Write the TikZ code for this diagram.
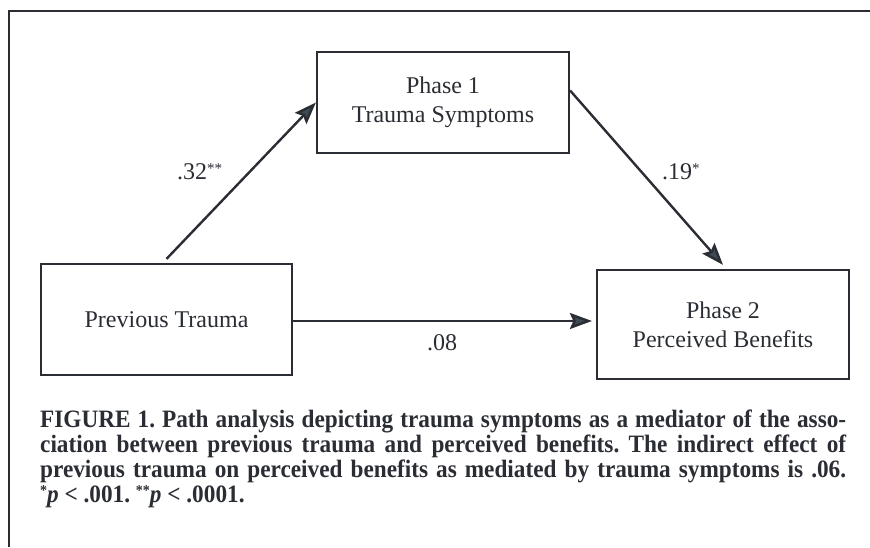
\documentclass[tikz,border=0pt]{standalone}
\usepackage{fontspec}
\setmainfont{Liberation Serif}
\newfontfamily\capfont[FakeStretch=0.93]{Liberation Serif}
\usetikzlibrary{arrows.meta}
\definecolor{ink}{HTML}{2A2D33}
\definecolor{tipc}{HTML}{3E4A54}
\newcommand{\smstar}[1]{\raisebox{0.28em}{\fontsize{15}{15}\selectfont #1}}
\frenchspacing
\begin{document}
\begin{tikzpicture}[x=1pt,y=1pt,
  boxnode/.style={draw=ink, line width=2.2pt, align=center, font=\fontsize{24}{29}\selectfont, text=ink, inner sep=0pt},
  conn/.style={draw=ink, line width=2.4pt, -{Stealth[length=22pt,width=16pt,inset=3.5pt,fill=tipc]}},
  lbl/.style={font=\fontsize{24}{29}\selectfont, text=ink, inner sep=0pt, anchor=base west},
  capline/.style={font=\capfont\bfseries\fontsize{25}{25}\selectfont, text=ink, inner sep=0pt, anchor=base west}]
\useasboundingbox (0,0) rectangle (870,547);
\fill[white] (0,0) rectangle (870,547);
\draw[ink, line width=2.5pt] (9,0) -- (9,536) -- (870,536);

\node[boxnode, minimum width=251pt, minimum height=111pt] (pt) at (166.5,227.5) {Previous Trauma};
\node[boxnode, minimum width=252pt, minimum height=101pt] (p1) at (443,444.5) {Phase 1\\Trauma Symptoms};
\node[boxnode, minimum width=252pt, minimum height=109pt] (p2) at (723,222.5) {Phase 2\\Perceived Benefits};

\coordinate (a1s) at ([yshift=4pt]pt.north);
\coordinate (a2s) at ([yshift=12pt]p1.east);
\coordinate (a2e) at ([yshift=4pt]p2.north);
\coordinate (a3s) at ([yshift=-1.5pt]pt.east);
\coordinate (a3e) at ([xshift=-4pt]p2.west |- a3s);
\draw[conn] (a1s) -- (p1.west);
\draw[conn] (a2s) -- (a2e);
\draw[conn] (a3s) -- (a3e);

\node[lbl] (l32) at (177,367) {.32\smstar{**}};
\node[lbl] (l19) at (662,367) {.19\smstar{*}};
\node[lbl] (l08) at (427,197) {.08};

\node[capline] (c1) at (40,119.5) {\makebox[806pt][s]{FIGURE 1. Path analysis depicting trauma symptoms as a mediator of the asso-}};
\node[capline] (c2) at (40,94.5) {\makebox[806pt][s]{ciation between previous trauma and perceived benefits. The indirect effect of}};
\node[capline] (c3) at (40,69.5) {\makebox[806pt][s]{previous trauma on perceived benefits as mediated by trauma symptoms is .06.}};
\node[capline] (c4) at (40,44.5) {\smstar{*}\textit{p} < .001. \smstar{**}\textit{p} < .0001.};
\end{tikzpicture}
\end{document}
